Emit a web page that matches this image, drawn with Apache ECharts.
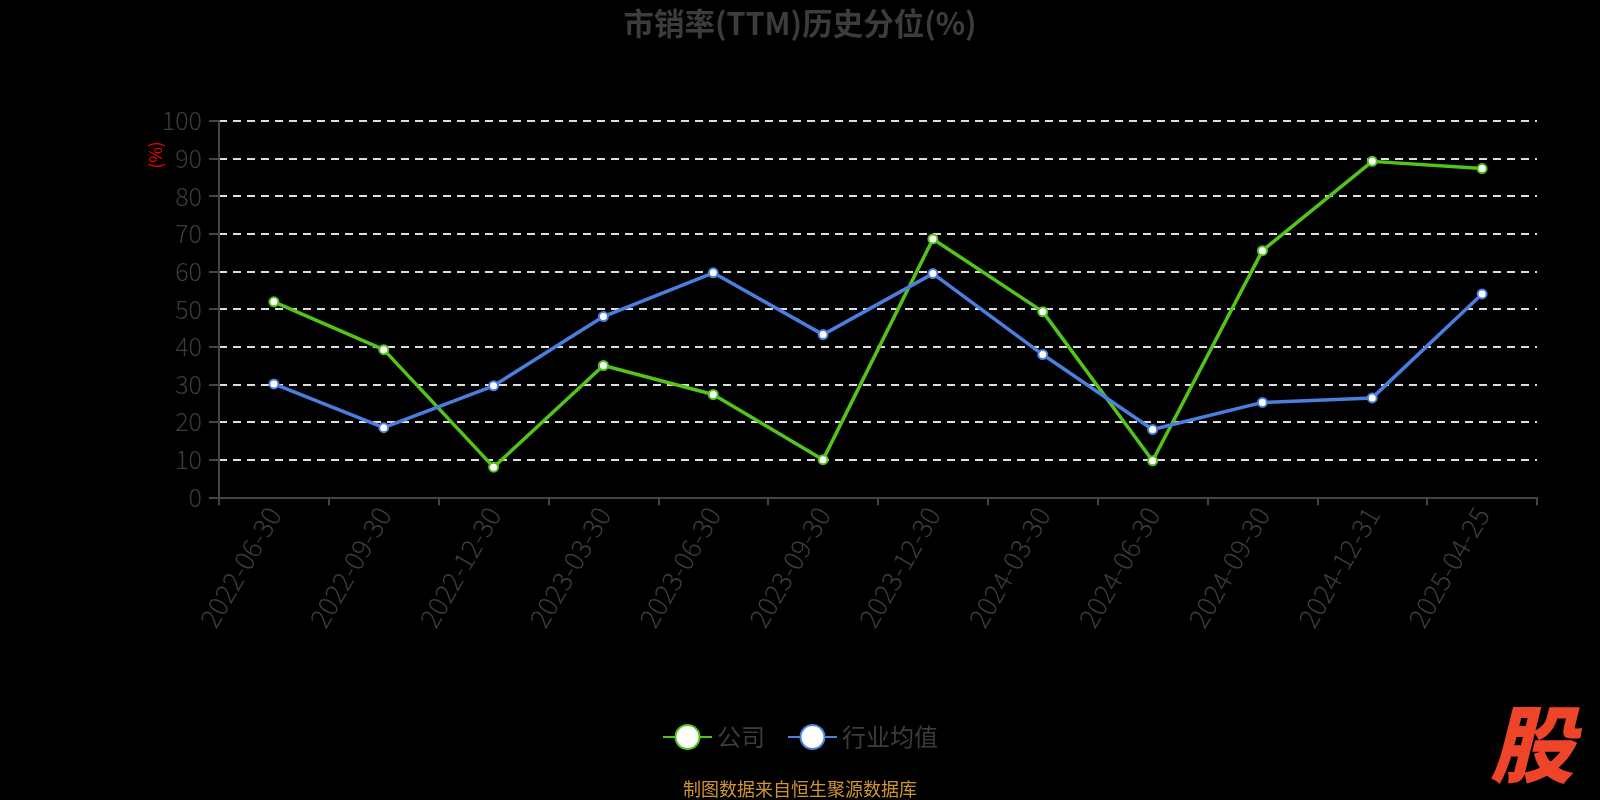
<!DOCTYPE html>
<html>
<head>
<meta charset="utf-8">
<script src="https://cdn.jsdelivr.net/npm/echarts@6/dist/echarts.min.js"></script>
<style>
html,body{margin:0;padding:0;background:#000;}
#main{width:1600px;height:800px;}
</style>
</head>
<body>
<div id="main"></div>
<script>
var categories = ['2022-06-30','2022-09-30','2022-12-30','2023-03-30','2023-06-30','2023-09-30','2023-12-30','2024-03-30','2024-06-30','2024-09-30','2024-12-31','2025-04-25'];
var companyValues = [51.9, 39.2, 8.0, 35.0, 27.3, 10.0, 68.6, 49.3, 9.7, 65.5, 89.2, 87.3];
var industryValues = [30.1, 18.5, 29.6, 48.0, 59.6, 43.2, 59.4, 37.9, 18.0, 25.2, 26.4, 54.0];
var seriesNames = ['公司', '行业均值'];
var yTicks = {min: 0, max: 100, interval: 10};

var FONT = '"Noto Sans CJK SC", "Noto Sans", sans-serif';
var chart = echarts.init(document.getElementById('main'), null, {renderer: 'canvas'});
var option = {
  backgroundColor: '#000',
  animation: false,
  title: {
    text: '市销率(TTM)历史分位(%)',
    left: 'center',
    top: 3,
    textStyle: {color: '#3c3c3c', fontSize: 30.5, fontWeight: 'bold', fontFamily: FONT}
  },
  legend: {
    data: seriesNames,
    left: 'center',
    top: 719,
    itemWidth: 49,
    itemHeight: 30,
    itemGap: 22,
    textStyle: {color: '#3c3c3c', fontSize: 24, fontFamily: FONT}
  },
  grid: {left: 219, right: 63, top: 120.7, bottom: 302.7, containLabel: false},
  xAxis: {
    type: 'category',
    data: categories,
    boundaryGap: true,
    axisLine: {lineStyle: {color: '#444', width: 2}},
    axisTick: {show: true, length: 8, lineStyle: {color: '#444', width: 2}},
    axisLabel: {rotate: 60, color: '#3c3c3c', fontSize: 27, fontWeight: 300, fontFamily: FONT, margin: 12, interval: 0},
    splitLine: {show: false}
  },
  yAxis: {
    type: 'value',
    min: yTicks.min,
    max: yTicks.max,
    interval: yTicks.interval,
    axisLine: {show: true, lineStyle: {color: '#444', width: 2}},
    axisTick: {show: true, length: 10, lineStyle: {color: '#444', width: 2}},
    axisLabel: {color: '#3c3c3c', fontSize: 25, fontWeight: 300, fontFamily: FONT, margin: 17},
    splitLine: {show: true, lineStyle: {color: '#dddddd', width: 2, type: [8, 6]}}
  },
  series: [
    {
      name: seriesNames[0],
      type: 'line',
      data: companyValues,
      symbol: 'emptyCircle',
      symbolSize: 9,
      lineStyle: {color: '#52c41a', width: 3.5},
      itemStyle: {color: '#52c41a', borderColor: '#52c41a', borderWidth: 2}
    },
    {
      name: seriesNames[1],
      type: 'line',
      data: industryValues,
      symbol: 'emptyCircle',
      symbolSize: 9,
      lineStyle: {color: '#4a7fdf', width: 3.5},
      itemStyle: {color: '#4a7fdf', borderColor: '#4a7fdf', borderWidth: 2}
    }
  ],
  graphic: [
    {
      type: 'text',
      x: 156, y: 155,
      rotation: Math.PI / 2,
      style: {text: '(%)', fill: '#ff0000', font: '17px ' + FONT, textAlign: 'center', textVerticalAlign: 'middle'}
    },
    {
      type: 'text',
      x: 800, y: 789,
      style: {text: '制图数据来自恒生聚源数据库', fill: '#d09530', font: '18px ' + FONT, textAlign: 'center', textVerticalAlign: 'middle'}
    },
    {
      type: 'text',
      x: 1532, y: 744,
      style: {text: '股', fill: '#ee4528', font: 'italic 900 84px ' + FONT, textAlign: 'center', textVerticalAlign: 'middle'}
    }
  ]
};
chart.setOption(option);
</script>
</body>
</html>
